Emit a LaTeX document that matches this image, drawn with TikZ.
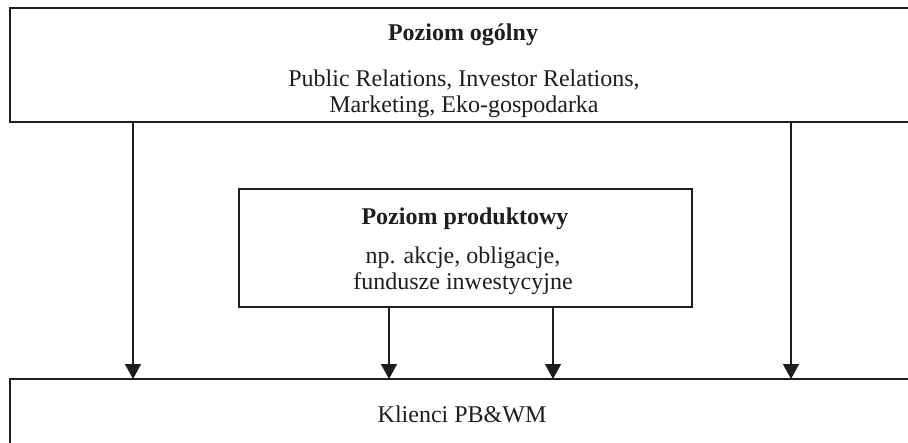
\documentclass[tikz,border=0pt]{standalone}
\usepackage{fontspec}
\setmainfont{Liberation Serif}
\usetikzlibrary{arrows.meta}
\definecolor{ink}{HTML}{1E1E1E}
\tikzset{
  box/.style={draw=ink, line width=1.4pt, fill=white, outer sep=0pt, inner sep=0pt},
  txt/.style={anchor=base, inner sep=0pt, text=ink, font=\fontsize{24}{27}\selectfont},
  btxt/.style={txt, font=\fontsize{24}{27}\selectfont\bfseries},
  arr/.style={draw=ink, line width=1.4pt, -{Triangle[width=16pt,length=15pt]}}
}
\begin{document}
\begin{tikzpicture}[x=1pt,y=-1pt]
\useasboundingbox (0,0) rectangle (908,442);
\clip (0,0) rectangle (908,442);
\fill[white] (0,0) rectangle (908,442);
% boxes
\node[box, minimum width=908pt, minimum height=114pt] (top) at (464,65) {};
\node[box, minimum width=453pt, minimum height=118pt] (mid) at (465.5,248) {};
\node[box, minimum width=908pt, minimum height=92pt] (bot) at (464,425) {};
% texts
\node[btxt] (t1) at (463,40) {Poziom ogólny};
\node[txt] (t2) at (464,86) {Public Relations, Investor Relations,};
\node[txt] (t3) at (464,112) {Marketing, Eko-gospodarka};
\node[btxt] (m1) at (465,224) {Poziom produktowy};
\node[txt] (m2) at (463,263) {np. akcje, obligacje,};
\node[txt] (m3) at (463,289) {fundusze inwestycyjne};
\node[txt] (b1) at (462,422) {Klienci PB\&WM};
% arrow columns
\coordinate (c1) at (133,0);
\coordinate (c2) at (389,0);
\coordinate (c3) at (553,0);
\coordinate (c4) at (791,0);
\draw[arr] (top.south -| c1) -- (bot.north -| c1);
\draw[arr] (top.south -| c4) -- (bot.north -| c4);
\draw[arr] (mid.south -| c2) -- (bot.north -| c2);
\draw[arr] (mid.south -| c3) -- (bot.north -| c3);
\end{tikzpicture}
\end{document}
